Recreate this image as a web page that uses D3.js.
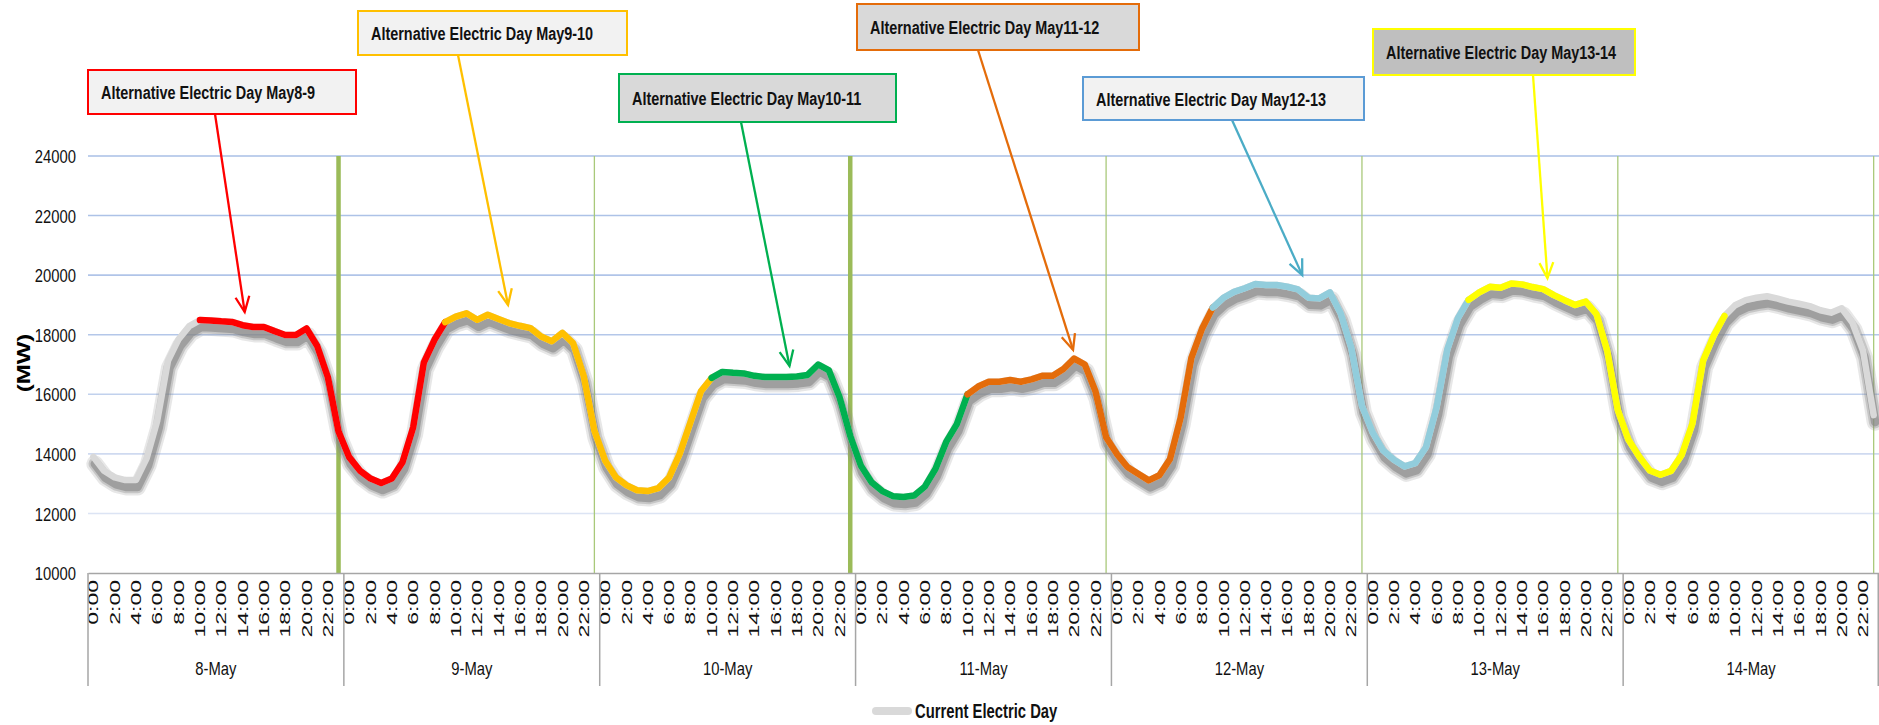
<!DOCTYPE html>
<html>
<head>
<meta charset="utf-8">
<script src="https://cdn.jsdelivr.net/npm/d3@7"></script>
<style>
  body { margin: 0; background: #fff; }
  svg { display: block; }
</style>
</head>
<body>
<svg id="chart" width="1879" height="725"></svg>
<script>
// ---- data -------------------------------------------------------------
const days = ["8-May", "9-May", "10-May", "11-May", "12-May", "13-May", "14-May"];
const hours = d3.range(24).map(h => h + ":00");
const yTicks = [10000, 12000, 14000, 16000, 18000, 20000, 22000, 24000];

// hourly load (MW), one array per day
const load8  = [13900,13430,13210,13120,13120,13850,15120,17120,17850,18290,18490,18480,18450,18430,18320,18260,18260,18120,17990,17990,18210,17620,16570,14750];
const load9  = [13890,13440,13170,13020,13170,13720,14890,17060,17830,18420,18610,18720,18500,18670,18530,18390,18300,18220,17940,17780,18060,17720,16610,14780];
const load10 = [13780,13220,12950,12780,12750,12850,13200,14000,15050,16100,16550,16750,16720,16700,16620,16580,16580,16580,16600,16650,17000,16800,15900,14600];
const load11 = [13600,13050,12750,12580,12550,12600,12900,13500,14400,15000,16000,16260,16420,16420,16480,16420,16500,16620,16620,16850,17200,17000,16100,14560];
const load12 = [14000,13560,13330,13110,13280,13830,15220,17220,18200,18910,19240,19440,19560,19700,19670,19670,19610,19520,19240,19220,19420,18720,17560,15610];
const load13 = [14720,14110,13800,13580,13690,14220,15560,17500,18560,19170,19420,19610,19580,19720,19690,19600,19530,19330,19160,19000,19110,18690,17470,15470];
const load14 = [14470,13910,13440,13300,13430,13970,15020,17130,17970,18630,18990,19160,19240,19290,19210,19110,19040,18960,18820,18740,18890,18410,17470,15300];

// alternative electric day windows (hour index into the whole week)
const altLabels = ["Alternative Electric Day May8-9", "Alternative Electric Day May9-10",
                   "Alternative Electric Day May10-11", "Alternative Electric Day May11-12",
                   "Alternative Electric Day May12-13", "Alternative Electric Day May13-14"];
const altFrom = [10, 33, 58, 82, 105, 129];
const altTo   = [33, 58, 82, 105, 129, 153];
// point each callout aims at: hour index and load value
const altPointHour = [14.2, 38.9, 65.3, 91.9, 113.4, 136.4];
const altPointLoad = [18760, 19000, 16950, 17490, 20000, 19900];

const seriesName = "Current Electric Day";

// ---- styling / layout ----------------------------------------------------
const W = 1879, H = 725;
const plot = { left: 88, right: 1879, top: 156, bottom: 573 };
const altColors = ["#ff0000", "#ffc000", "#00b050", "#e46c0a", "#92cddc", "#ffff00"];
const calloutStyle = [
  { x: 88,   y: 70, w: 268, h: 44, fill: "#f2f2f2", stroke: "#ff0000", arrow: "#ff0000", ax: 215 },
  { x: 358,  y: 11, w: 269, h: 44, fill: "#f2f2f2", stroke: "#ffc000", arrow: "#ffc000", ax: 458 },
  { x: 619,  y: 74, w: 277, h: 48, fill: "#d9d9d9", stroke: "#00b050", arrow: "#00b050", ax: 741 },
  { x: 857,  y: 4,  w: 282, h: 46, fill: "#d9d9d9", stroke: "#e46c0a", arrow: "#e46c0a", ax: 978 },
  { x: 1083, y: 77, w: 281, h: 43, fill: "#f2f2f2", stroke: "#5b9bd5", arrow: "#4bacc6", ax: 1232 },
  { x: 1373, y: 29, w: 262, h: 46, fill: "#bfbfbf", stroke: "#ffff00", arrow: "#ffff00", ax: 1533 }
];
const heavyMarkerDays = new Set(["8-May", "10-May"]);
// layered strokes that build up the soft shadow under the curve
const shadowLayers = [
  { width: 17, opacity: 0.2 },
  { width: 12.5, opacity: 0.34 },
  { width: 8.5,  opacity: 0.6 }
];
const SQ = 0.8;       // horizontal compression of the narrow typeface
const SQ_BOLD = 0.76;
const FONT = "'Liberation Sans', Arial, sans-serif";

// ---- derived ---------------------------------------------------------------
const categories = days.flatMap(d => hours.map(h => d + " " + h));
const load = [].concat(load8, load9, load10, load11, load12, load13, load14);

const svg = d3.select("#chart");
svg.append("rect").attr("width", W).attr("height", H).attr("fill", "#fff");

const x = d3.scaleBand().domain(categories).range([plot.left, plot.right]).padding(0);
const cx = c => x(c) + x.bandwidth() / 2;
const xHour = d3.scaleLinear().domain([-0.5, categories.length - 0.5]).range([plot.left, plot.right]);
const y = d3.scaleLinear().domain([10000, 24000]).range([plot.bottom, plot.top]);

// horizontal gridlines
const gridColor = d3.scaleLinear().domain([24000, 18000, 12000])
  .range(["#a9bfe6", "#b4c7e9", "#dce4f4"]).interpolate(d3.interpolateRgb);
svg.append("g").selectAll("line")
  .data(yTicks.filter(v => v > 10000))
  .join("line")
  .attr("x1", plot.left).attr("x2", plot.right)
  .attr("y1", d => y(d)).attr("y2", d => y(d))
  .attr("stroke", d => gridColor(d)).attr("stroke-width", 1.6);

// end-of-day markers
svg.append("g").selectAll("line")
  .data(days)
  .join("line")
  .attr("x1", d => cx(d + " 23:00")).attr("x2", d => cx(d + " 23:00"))
  .attr("y1", y(24000)).attr("y2", y(10000))
  .attr("stroke", d => heavyMarkerDays.has(d) ? "#9bbb59" : "#a9c97a")
  .attr("stroke-width", d => heavyMarkerDays.has(d) ? 4.5 : 1.3);

// y axis
const yAxis = svg.append("g").attr("transform", `translate(${plot.left},0)`)
  .call(d3.axisLeft(y).tickValues(yTicks).tickSize(0).tickFormat(d3.format("d")));
yAxis.select(".domain").remove();
yAxis.selectAll("text")
  .attr("font-family", FONT).attr("font-size", 18.5).attr("fill", "#111")
  .attr("x", -12 / SQ).attr("dy", "0.36em")
  .attr("transform", `scale(${SQ},1)`);

svg.append("text")
  .attr("transform", `translate(23,363) rotate(-90) scale(1,${SQ})`)
  .attr("text-anchor", "middle").attr("dy", "0.36em")
  .attr("font-family", FONT).attr("font-weight", "bold").attr("font-size", 24)
  .attr("fill", "#000").text("(MW)");

// x axis: hours
const evenHours = categories.filter((c, i) => i % 2 === 0);
const xAxis = svg.append("g").attr("transform", `translate(0,${plot.bottom})`)
  .call(d3.axisBottom(x).tickValues(evenHours).tickSize(0).tickSizeOuter(0)
    .tickFormat(c => c.split(" ")[1]));
xAxis.select(".domain").attr("stroke", "#a6a6a6").attr("stroke-width", 1.5);
xAxis.selectAll("text")
  .attr("font-family", FONT).attr("font-size", 23).attr("fill", "#111")
  .attr("text-anchor", "end").attr("x", -7).attr("y", 0).attr("dy", "0.36em")
  .attr("transform", "rotate(-90) scale(1,0.62)");

// x axis: day groups
const dayStart = d => x(d + " 0:00");
const dayEnd = d => x(d + " 23:00") + x.bandwidth();
svg.append("g").selectAll("line")
  .data([dayStart(days[0])].concat(days.map(dayEnd)))
  .join("line")
  .attr("x1", d => Math.min(d, W - 0.75)).attr("x2", d => Math.min(d, W - 0.75))
  .attr("y1", plot.bottom).attr("y2", plot.bottom + 113)
  .attr("stroke", "#a6a6a6").attr("stroke-width", 1.5);
svg.append("g").selectAll("text")
  .data(days)
  .join("text")
  .attr("transform", d => `translate(${(dayStart(d) + dayEnd(d)) / 2},${plot.bottom + 102}) scale(${SQ},1)`)
  .attr("text-anchor", "middle")
  .attr("font-family", FONT).attr("font-size", 18.5).attr("fill", "#111")
  .text(d => d);

// load curve
const line = d3.line()
  .x(d => cx(categories[d.i]))
  .y(d => y(d.v))
  .curve(d3.curveLinear);
const pts = load.map((v, i) => ({ i, v }));

// shadow: the same curve, darker, offset down and softened by layering
svg.append("g").attr("transform", "translate(1.5,7)")
  .selectAll("path")
  .data(shadowLayers)
  .join("path")
  .attr("d", line(pts))
  .attr("fill", "none").attr("stroke", "#868686")
  .attr("stroke-width", d => d.width).attr("stroke-opacity", d => d.opacity)
  .attr("stroke-linejoin", "round").attr("stroke-linecap", "round");

svg.append("path")
  .datum(pts)
  .attr("d", line)
  .attr("fill", "none").attr("stroke", "#d9d9d9").attr("stroke-width", 6.5)
  .attr("stroke-linejoin", "round").attr("stroke-linecap", "round");

// alternative electric day overlays
svg.append("g").selectAll("path")
  .data(altLabels.map((lab, k) => pts.slice(altFrom[k], altTo[k] + 1)))
  .join("path")
  .attr("d", line)
  .attr("fill", "none").attr("stroke", (d, k) => altColors[k]).attr("stroke-width", 6.5)
  .attr("stroke-linejoin", "round").attr("stroke-linecap", "round");

// callouts
const callouts = svg.append("g");
altLabels.forEach((lab, k) => {
  const s = calloutStyle[k];
  const g = callouts.append("g");
  const sx = s.ax, sy = s.y + s.h;
  const tx = xHour(altPointHour[k]), ty = y(altPointLoad[k]);
  const a = Math.atan2(ty - sy, tx - sx), L = 17, phi = 0.42;
  g.append("line")
    .attr("x1", sx).attr("y1", sy).attr("x2", tx).attr("y2", ty)
    .attr("stroke", s.arrow).attr("stroke-width", 2.3);
  g.append("path")
    .attr("d", `M${tx - L * Math.cos(a - phi)},${ty - L * Math.sin(a - phi)}L${tx},${ty}L${tx - L * Math.cos(a + phi)},${ty - L * Math.sin(a + phi)}`)
    .attr("fill", "none").attr("stroke", s.arrow).attr("stroke-width", 2.3)
    .attr("stroke-linejoin", "miter");
  g.append("rect")
    .attr("x", s.x).attr("y", s.y).attr("width", s.w).attr("height", s.h)
    .attr("fill", s.fill).attr("stroke", s.stroke).attr("stroke-width", 2);
  g.append("text")
    .attr("transform", `translate(${s.x + 13},${s.y + s.h / 2 + 7}) scale(${SQ_BOLD},1)`)
    .attr("font-family", FONT).attr("font-weight", "bold").attr("font-size", 19)
    .attr("fill", "#111").text(lab);
});

// legend
const leg = svg.append("g").attr("transform", "translate(0,711)");
leg.append("line").attr("x1", 876).attr("x2", 908).attr("y1", 0).attr("y2", 0)
  .attr("stroke", "#d9d9d9").attr("stroke-width", 8).attr("stroke-linecap", "round");
leg.append("text")
  .attr("transform", `translate(915,7) scale(${SQ_BOLD},1)`)
  .attr("font-family", FONT).attr("font-weight", "bold").attr("font-size", 19.5)
  .attr("fill", "#111").text(seriesName);
</script>
</body>
</html>
